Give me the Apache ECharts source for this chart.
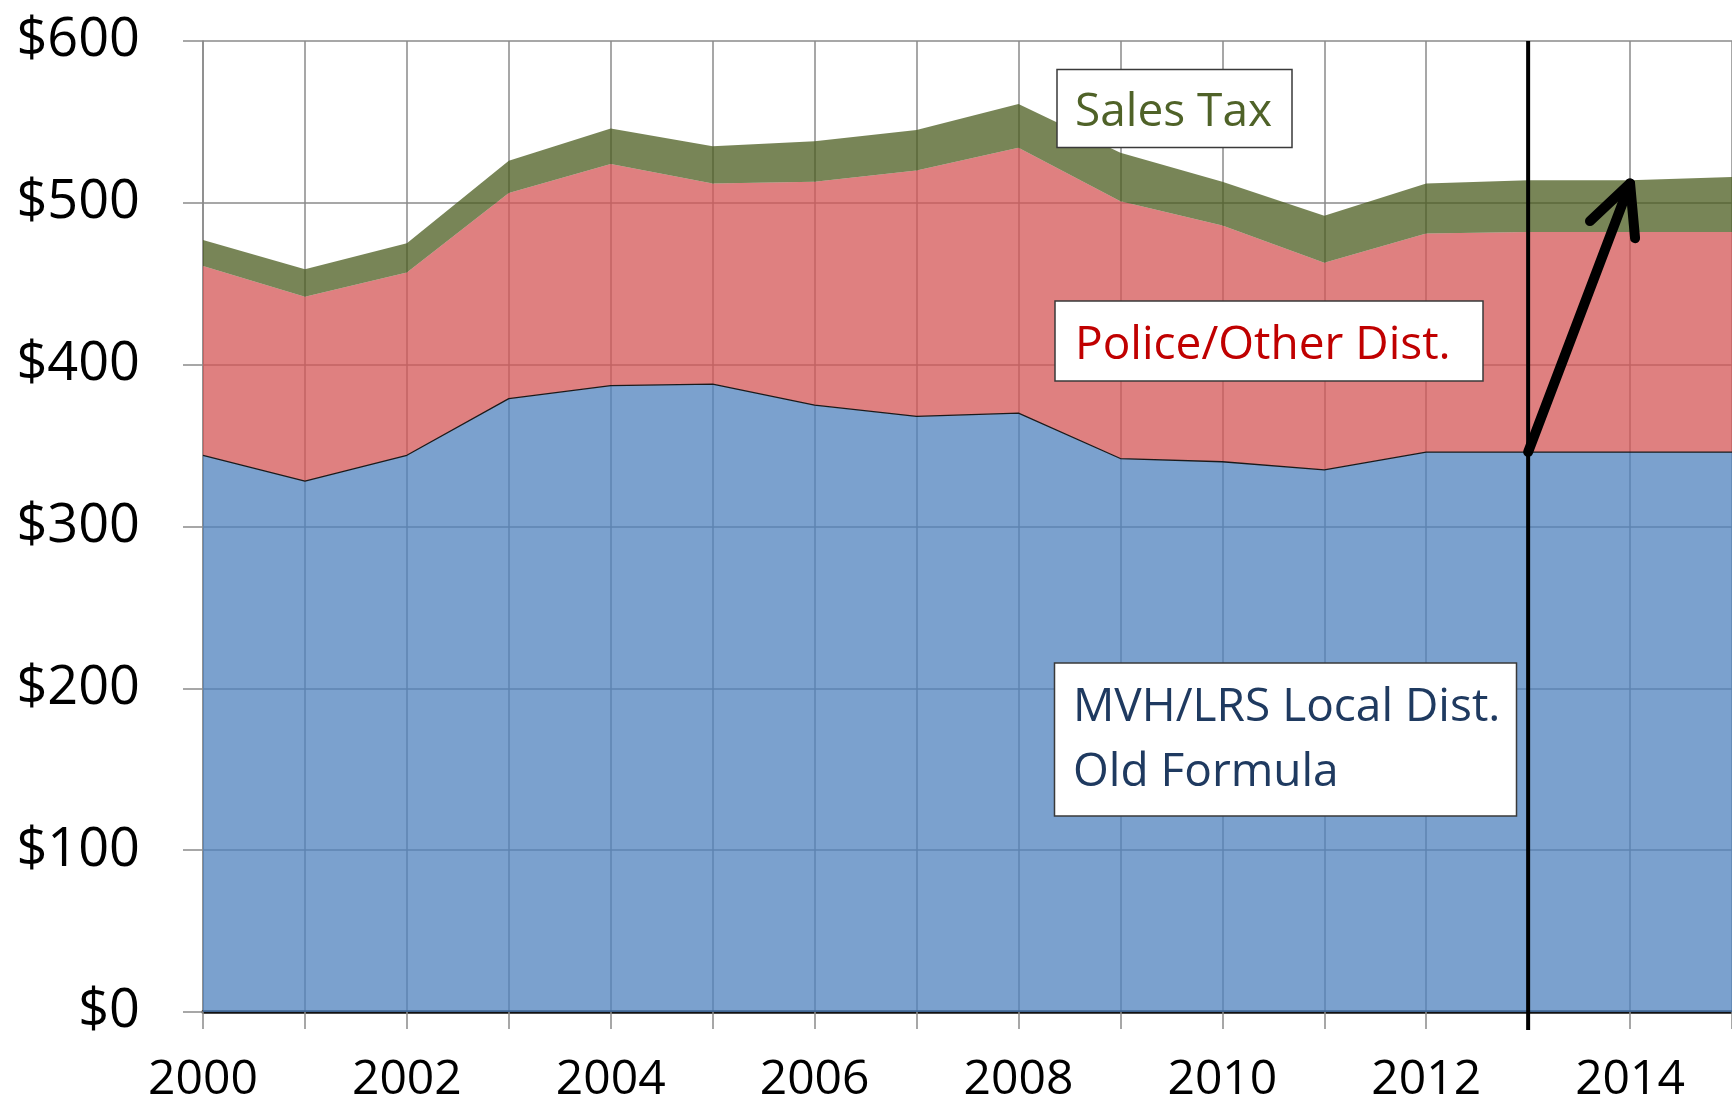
<!DOCTYPE html>
<html><head><meta charset="utf-8">
<script src="https://cdn.jsdelivr.net/npm/echarts@6/dist/echarts.min.js"></script>
<style>html,body{margin:0;padding:0;background:#fff}#c{width:1732px;height:1104px}</style>
</head><body><div id="c"></div>
<script>
const years = ['2000','2001','2002','2003','2004','2005','2006','2007','2008','2009','2010','2011','2012','2013','2014','2015'];
const mvhLocal    = [344, 328, 344, 379, 387, 388, 375, 368, 370, 342, 340, 335, 346, 346, 346, 346];
const policeOther = [117, 114, 113, 127, 137, 124, 138, 152, 164, 159, 146, 128, 135, 136, 136, 136];
const salesTax    = [ 16,  17,  18,  20,  22,  23,  25,  25,  27,  30,  27,  29,  31,  32,  32,  34];
const yMin = 0, yMax = 600, yStep = 100;
const dividerYear = '2013';
const arrowFrom = ['2013', 346];
const arrowTo   = ['2014', 512];
const labelSales = 'Sales Tax';
const labelPolice = 'Police/Other Dist.';
const labelMvh = ['MVH/LRS Local Dist.', 'Old Formula'];

const FONT = 'Open Sans';
const chart = echarts.init(document.getElementById('c'), null, {renderer: 'canvas'});
const gridColor = '#8a8a8a';

chart.setOption({
  animation: false,
  backgroundColor: '#ffffff',
  textStyle: {fontFamily: FONT},
  grid: {left: 203, right: 0, top: 41, bottom: 91, containLabel: false},
  xAxis: {
    type: 'category', data: years, boundaryGap: false,
    axisLine: {show: true, lineStyle: {color: '#111', width: 3.5}},
    axisTick: {show: true, interval: 0, length: 17, lineStyle: {color: gridColor, width: 1.5}},
    axisLabel: {interval: 1, fontSize: 48, color: '#000', margin: 44, fontFamily: FONT},
    splitLine: {show: true, interval: 0, lineStyle: {color: gridColor, width: 1.5}}
  },
  yAxis: {
    type: 'value', min: yMin, max: yMax, interval: yStep,
    axisLine: {show: true, lineStyle: {color: gridColor, width: 1.5}},
    axisTick: {show: true, length: 20, lineStyle: {color: gridColor, width: 1.5}},
    axisLabel: {fontSize: 54, color: '#000', margin: 63, fontFamily: FONT, formatter: v => '$' + v},
    splitLine: {show: true, lineStyle: {color: gridColor, width: 1.5}}
  },
  series: [
    {name: 'MVH/LRS Local Dist.', type: 'line', stack: 'total', data: mvhLocal, symbol: 'none',
     lineStyle: {color: '#1a1a1a', width: 1.3}, areaStyle: {color: '#4F82BD', opacity: 0.75}, z: 2},
    {name: 'Police/Other Dist.', type: 'line', stack: 'total', data: policeOther, symbol: 'none',
     lineStyle: {width: 0}, areaStyle: {color: '#D45656', opacity: 0.75}, z: 2},
    {name: 'Sales Tax', type: 'line', stack: 'total', data: salesTax, symbol: 'none',
     lineStyle: {width: 0}, areaStyle: {color: '#4B5C1F', opacity: 0.75}, z: 2}
  ]
});

function px(pt) {
  return chart.convertToPixel({gridIndex: 0}, [years.indexOf(pt[0]), pt[1]]);
}
const vTop = px([dividerYear, yMax]);
const vBot = px([dividerYear, yMin]);
const tail = px(arrowFrom);
const tip = px(arrowTo);
const dx = tip[0] - tail[0], dy = tip[1] - tail[1];
const len = Math.sqrt(dx*dx + dy*dy);
const ux = -dx/len, uy = -dy/len;
function rot(x, y, a) { return [x*Math.cos(a) - y*Math.sin(a), x*Math.sin(a) + y*Math.cos(a)]; }
const headLen = 55, ang = 26 * Math.PI / 180;
const w1 = rot(ux, uy, ang), w2 = rot(ux, uy, -ang);

function box(x, y, w, h) {
  return {type: 'rect', z: 100, shape: {x: x, y: y, width: w, height: h},
          style: {fill: '#ffffff', stroke: '#3a3a3a', lineWidth: 1.5}};
}
function txt(t, x, y, color) {
  return {type: 'text', z: 101, style: {text: t, x: x, y: y, fill: color,
          font: '46px "' + FONT + '"', textAlign: 'left', textVerticalAlign: 'middle'}};
}

chart.setOption({
  graphic: [
    {type: 'line', z: 90, shape: {x1: vTop[0], y1: vTop[1], x2: vBot[0], y2: vBot[1] + 18},
     style: {stroke: '#000', lineWidth: 4}},
    {type: 'polyline', z: 90, shape: {points: [tail, tip]},
     style: {stroke: '#000', lineWidth: 10, lineCap: 'round', lineJoin: 'round', fill: null}},
    {type: 'polyline', z: 90, shape: {points: [
        [tip[0] + w1[0]*headLen, tip[1] + w1[1]*headLen], tip,
        [tip[0] + w2[0]*headLen, tip[1] + w2[1]*headLen]]},
     style: {stroke: '#000', lineWidth: 10, lineCap: 'round', lineJoin: 'round', fill: null}},
    box(1057, 69.5, 235, 78),
    txt(labelSales, 1075, 113, '#4F6228'),
    box(1055, 301, 428, 80),
    txt(labelPolice, 1075, 346, '#C00000'),
    box(1054.5, 663, 462, 153),
    txt(labelMvh[0], 1073, 708, '#1F3A60'),
    txt(labelMvh[1], 1073, 773, '#1F3A60')
  ]
});
</script>
</body></html>
